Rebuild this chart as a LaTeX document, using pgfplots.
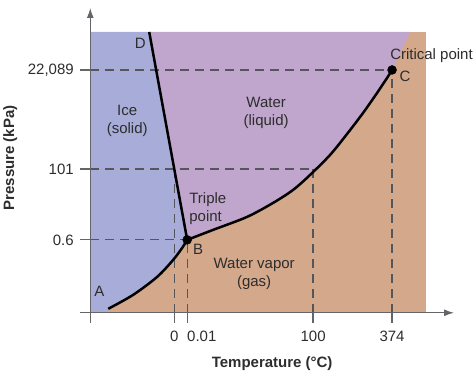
\documentclass[border=0pt]{standalone}
\usepackage{fontspec}
\setmainfont{Liberation Sans}
\usepackage{pgfplots}
\pgfplotsset{compat=1.18}
\usetikzlibrary{arrows.meta}
\definecolor{icec}{RGB}{168,172,216}
\definecolor{liqc}{RGB}{192,166,204}
\definecolor{gasc}{RGB}{212,168,138}
\definecolor{axgray}{RGB}{100,100,105}
\definecolor{dashgray}{RGB}{85,85,92}
\definecolor{txt}{RGB}{45,45,45}
\begin{document}
\begin{tikzpicture}
\begin{axis}[
  scale only axis, width=374pt, height=315pt,
  xmin=-10, xmax=364, ymin=-10, ymax=305,
  axis lines=middle,
  axis line style={draw=axgray, line width=1.3pt, -{Latex[length=10pt,width=7pt]}},
  xtick={84,97,223,302}, xticklabels={0,\rlap{0.01},100,374},
  ytick={73,144,243}, yticklabels={0.6,101,{22,089}},
  tick align=outside, major tick length=10pt,
  tick style={draw=axgray, line width=1.3pt},
  /pgf/number format/assume math mode=true,
  every tick label/.append style={font=\fontsize{15}{17}\selectfont, text=txt},
  xticklabel style={yshift=-5pt},
  yticklabel style={xshift=-3pt},
  xlabel={Temperature (°C)}, ylabel={Pressure (kPa)},
  x label style={at={(axis cs:182,-51)}, anchor=center, font=\fontsize{15}{17}\selectfont\bfseries, text=txt},
  y label style={at={(axis cs:-80,155)}, anchor=center, rotate=90, font=\fontsize{15}{17}\selectfont\bfseries, text=txt},
  clip=false, axis on top,
]
% vapor (base)
\addplot[fill=gasc, draw=none] coordinates {(0,0) (336,0) (336,281) (0,281)} -- cycle;
% liquid
\addplot[fill=liqc, draw=none] coordinates {(97,73) (123,83) (157,96) (183,110) (203,123) (220,138) (240,158) (257,179) (273,200) (287,220) (297,235) (302,243) (320,281) (59,281)} -- cycle;
% ice
\addplot[fill=icec, draw=none] coordinates {(0,0) (18,0) (18,4) (43,18) (67,36) (83,53) (92,65) (97,73) (59,281) (0,281)} -- cycle;
% dashed guides
\addplot[dashgray, line width=1.3pt, dash pattern=on 9pt off 6pt] coordinates {(0,243) (302,243)};
\addplot[dashgray, line width=1.3pt, dash pattern=on 9pt off 6pt] coordinates {(0,144) (223,144)};
\addplot[dashgray, line width=1.3pt, dash pattern=on 9pt off 6pt] coordinates {(0,73) (97,73)};
\addplot[dashgray, line width=1.3pt, dash pattern=on 9pt off 6pt] coordinates {(84,0) (84,144)};
\addplot[dashgray, line width=1.3pt, dash pattern=on 9pt off 6pt] coordinates {(97,0) (97,73)};
\addplot[dashgray, line width=1.3pt, dash pattern=on 9pt off 6pt] coordinates {(223,0) (223,144)};
\addplot[dashgray, line width=1.3pt, dash pattern=on 9pt off 6pt] coordinates {(302,0) (302,243)};
% phase boundaries
\addplot[black, line width=2.5pt] coordinates {(59,281) (97,73)};
\addplot[black, line width=2.5pt, smooth] coordinates {(18,4) (43,18) (67,36) (83,53) (92,65) (97,73)};
\addplot[black, line width=2.5pt, smooth] coordinates {(97,73) (123,83) (157,96) (183,110) (203,123) (220,138) (240,158) (257,179) (273,200) (287,220) (297,235) (302,243)};
% points
\addplot[only marks, mark=*, mark size=4.5pt, black] coordinates {(97,73) (302,243)};
% labels
\begin{scope}[every node/.style={font=\fontsize{15}{18}\selectfont, text=txt, inner sep=0pt, align=center}]
\node at (axis cs:50,270) {D};
\node at (axis cs:37,192) {Ice\\(solid)};
\node at (axis cs:176,200) {Water\\(liquid)};
\node[anchor=west] at (axis cs:300,257) {Critical point};
\node at (axis cs:315,237) {C};
\node[anchor=west, align=left] at (axis cs:99,104) {Triple\\point};
\node at (axis cs:108,63) {B};
\node at (axis cs:164,39) {Water vapor\\(gas)};
\node at (axis cs:9,21) {A};
\end{scope}
\path (axis cs:-90,-58) rectangle (axis cs:384,313);
\end{axis}
\end{tikzpicture}
\end{document}
